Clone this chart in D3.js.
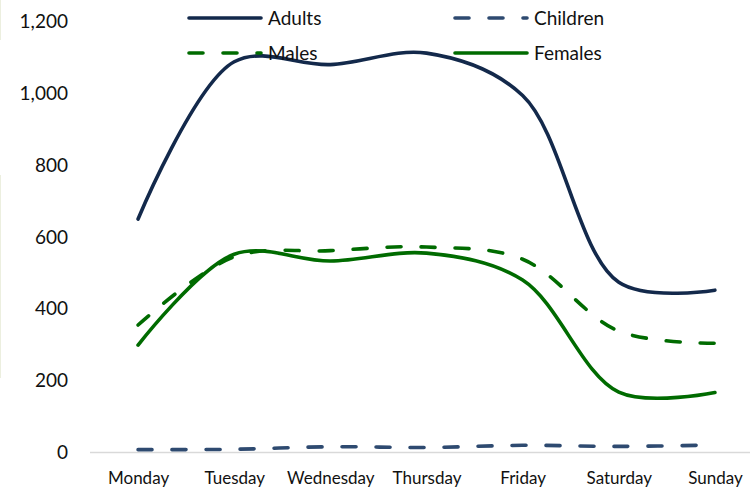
<!DOCTYPE html>
<html>
<head>
<meta charset="utf-8">
<script src="https://cdn.jsdelivr.net/npm/d3@7"></script>
<style>
  html, body { margin: 0; padding: 0; background: #fff; }
  svg { display: block; font-family: Lato, "Open Sans", sans-serif; }
</style>
</head>
<body>
<svg id="chart" width="750" height="488"></svg>
<script>
const days = ["Monday", "Tuesday", "Wednesday", "Thursday", "Friday", "Saturday", "Sunday"];
const adults   = [650, 1088, 1080, 1112, 994, 474, 452];
const children = [8, 9, 16, 14, 20, 17, 21];
const males    = [355, 545, 562, 572, 538, 338, 304];
const females  = [299, 552, 533, 555, 480, 168, 167];
const yTicks   = [0, 200, 400, 600, 800, 1000, 1200];
const seriesNames = ["Adults", "Children", "Males", "Females"];

const series = [
  { name: seriesNames[0], values: adults,   color: "#13294b", dash: null },
  { name: seriesNames[1], values: children, color: "#2e4a70", dash: "14,20" },
  { name: seriesNames[2], values: males,    color: "#006b00", dash: "14,20" },
  { name: seriesNames[3], values: females,  color: "#006b00", dash: null }
];

const svg = d3.select("#chart");
const plot = { left: 90, right: 763, top: 21.5, bottom: 452.5 };

const x = d3.scalePoint().domain(days).range([plot.left, plot.right]).padding(0.5);
const y = d3.scaleLinear().domain([0, 1200]).range([plot.bottom, plot.top]);

// faint left border artefacts
svg.append("line").attr("x1", 0.5).attr("x2", 0.5).attr("y1", 0).attr("y2", 40)
  .attr("stroke", "#ecefdf").attr("stroke-width", 1);
svg.append("line").attr("x1", 0.5).attr("x2", 0.5).attr("y1", 175).attr("y2", 378)
  .attr("stroke", "#ecefdf").attr("stroke-width", 1);

// y axis labels
const yAxis = d3.axisLeft(y).tickValues(yTicks).tickFormat(d3.format(",")).tickSize(0).tickPadding(0);
const gy = svg.append("g").attr("transform", "translate(68,0)").call(yAxis);
gy.select(".domain").remove();
gy.selectAll("text").attr("font-size", 19).attr("fill", "#111").attr("font-family", "Lato, sans-serif");

// x axis
const xAxis = d3.axisBottom(x).tickSize(0).tickPadding(0);
const gx = svg.append("g").attr("transform", `translate(0,${plot.bottom})`).call(xAxis);
gx.select(".domain").attr("stroke", "#d9d9d9").attr("stroke-width", 1.5)
  .attr("d", `M${plot.left},0H${plot.right}`);
gx.selectAll("text").attr("font-size", 17).attr("fill", "#111").attr("dy", 0).attr("y", 31)
  .attr("font-family", "Lato, sans-serif");

// lines
const line = d3.line()
  .x((d, i) => x(days[i]))
  .y(d => y(d))
  .curve(d3.curveCatmullRom.alpha(0.5));

series.forEach(s => {
  svg.append("path")
    .datum(s.values)
    .attr("d", line)
    .attr("fill", "none")
    .attr("stroke", s.color)
    .attr("stroke-width", 3.6)
    .attr("stroke-linecap", "round")
    .attr("stroke-linejoin", "round")
    .attr("stroke-dasharray", s.dash);
});

// legend
const legendPos = [
  { lx: 187, ly: 18 }, { lx: 453, ly: 18 },
  { lx: 187, ly: 53 }, { lx: 453, ly: 53 }
];
series.forEach((s, i) => {
  const p = legendPos[i];
  const g = svg.append("g").attr("transform", `translate(${p.lx},${p.ly})`);
  g.append("line").attr("x1", 2).attr("x2", 74).attr("y1", 0).attr("y2", 0)
    .attr("stroke", s.color).attr("stroke-width", 3.6)
    .attr("stroke-linecap", "round")
    .attr("stroke-dasharray", s.dash ? "14,20" : null);
  g.append("text").attr("x", 81).attr("y", 0).attr("dy", "0.35em")
    .attr("font-size", 19).attr("fill", "#111").text(s.name);
});
</script>
</body>
</html>
